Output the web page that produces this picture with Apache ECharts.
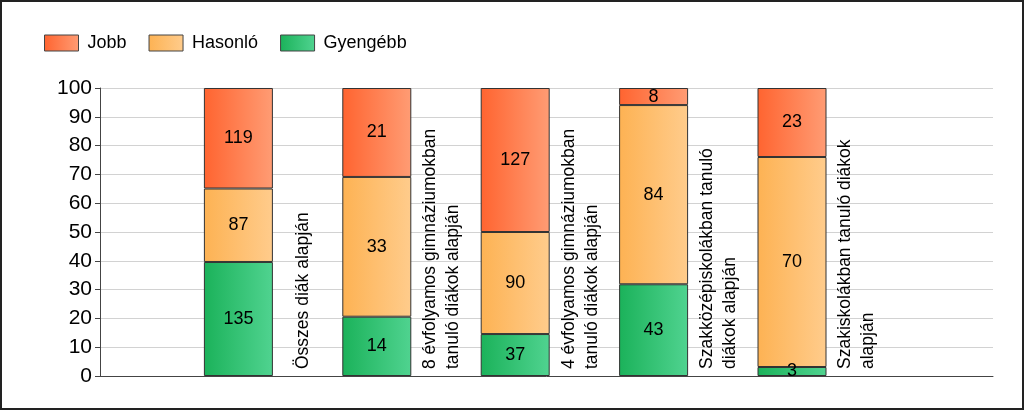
<!DOCTYPE html>
<html>
<head>
<meta charset="utf-8">
<script src="https://cdn.jsdelivr.net/npm/echarts@6/dist/echarts.min.js"></script>
<style>
html,body{margin:0;padding:0;background:#fff;}
#chart{position:absolute;left:0;top:0;width:1024px;height:410px;}
#frame{position:absolute;left:0;top:0;width:1024px;height:410px;box-sizing:border-box;border:2px solid #222;pointer-events:none;}
</style>
</head>
<body>
<div id="chart"></div>
<div id="frame"></div>
<script>
// ---- data ----
const categories = [
  'Összes diák alapján',
  '8 évfolyamos gimnáziumokban\ntanuló diákok alapján',
  '4 évfolyamos gimnáziumokban\ntanuló diákok alapján',
  'Szakközépiskolákban tanuló\ndiákok alapján',
  'Szakiskolákban tanuló diákok\nalapján'
];
const seriesNames = ['Jobb', 'Hasonló', 'Gyengébb'];
const jobb = [119, 21, 127, 8, 23];
const hasonlo = [87, 33, 90, 84, 70];
const gyengebb = [135, 14, 37, 43, 3];
const yMin = 0, yMax = 100, yStep = 10;

// ---- helpers ----
const FONT = '"Liberation Sans", Arial, sans-serif';
const totals = categories.map((c, i) => jobb[i] + hasonlo[i] + gyengebb[i]);
const padCats = [''].concat(categories, ['']);
function toItems(arr) {
  const items = arr.map((v, i) => ({
    value: v / totals[i] * 100,
    label: { formatter: String(v) }
  }));
  return [null].concat(items, [null]);
}
function grad(a, b) {
  return new echarts.graphic.LinearGradient(0, 0, 1, 0, [
    { offset: 0, color: a }, { offset: 1, color: b }
  ]);
}
const colors = {
  'Jobb': grad('#FF6430', '#FF9C74'),
  'Hasonló': grad('#FDB253', '#FFCC8C'),
  'Gyengébb': grad('#1BB25A', '#50D390')
};
const dataMap = { 'Jobb': jobb, 'Hasonló': hasonlo, 'Gyengébb': gyengebb };
const stackOrder = ['Gyengébb', 'Hasonló', 'Jobb'];

const TOP = 88, BOTTOM = 34, LEFT = 100;
const step = 138.4;
const barGridWidth = step * (padCats.length - 1);

const chart = echarts.init(document.getElementById('chart'), null, { renderer: 'canvas' });
const option = {
  animation: false,
  textStyle: { fontFamily: FONT },
  legend: {
    data: seriesNames,
    left: 39, top: 29,
    itemWidth: 34, itemHeight: 16, itemGap: 22,
    icon: 'rect',
    itemStyle: { borderColor: '#444', borderWidth: 1 },
    textStyle: { fontSize: 18, color: '#000', fontFamily: FONT, padding: [0, 0, 0, 4] }
  },
  grid: [
    { left: LEFT, right: 31, top: TOP, bottom: BOTTOM },
    { left: LEFT, width: barGridWidth, top: TOP, bottom: BOTTOM },
    { left: LEFT + 65, width: barGridWidth, top: TOP, bottom: BOTTOM }
  ],
  xAxis: [
    { gridIndex: 0, type: 'value', min: 0, max: 1,
      axisLine: { show: true, lineStyle: { color: '#444', width: 1 } },
      axisTick: { show: false }, axisLabel: { show: false }, splitLine: { show: false } },
    { gridIndex: 1, type: 'category', data: padCats, boundaryGap: false,
      axisLine: { show: false }, axisTick: { show: false }, axisLabel: { show: false }, splitLine: { show: false } },
    { gridIndex: 2, type: 'category', data: padCats, boundaryGap: false,
      axisLine: { show: false }, axisTick: { show: false }, splitLine: { show: false },
      axisLabel: { show: true, inside: true, rotate: 90, interval: 0, margin: 7,
        fontSize: 17.5, lineHeight: 23, color: '#000', fontFamily: FONT } }
  ],
  yAxis: [
    { gridIndex: 0, type: 'value', min: yMin, max: yMax, interval: yStep,
      axisLine: { show: true, lineStyle: { color: '#444', width: 1 } },
      axisTick: { show: true, length: 5, lineStyle: { color: '#444' } },
      axisLabel: { fontSize: 21, color: '#000', margin: 8, fontFamily: FONT },
      splitLine: { show: true, lineStyle: { color: '#d2d2d2', width: 1 } } },
    { gridIndex: 1, type: 'value', min: yMin, max: yMax, show: false, splitLine: { show: false } },
    { gridIndex: 2, type: 'value', min: yMin, max: yMax, show: false, splitLine: { show: false } }
  ],
  series: stackOrder.map(name => ({
    name: name,
    type: 'bar',
    xAxisIndex: 1, yAxisIndex: 1,
    stack: 'total',
    barWidth: 69,
    data: toItems(dataMap[name]),
    itemStyle: { color: colors[name], borderColor: '#333', borderWidth: 1 },
    label: { show: true, position: 'inside', fontSize: 18, color: '#000', fontFamily: FONT }
  }))
};
chart.setOption(option);
</script>
</body>
</html>
